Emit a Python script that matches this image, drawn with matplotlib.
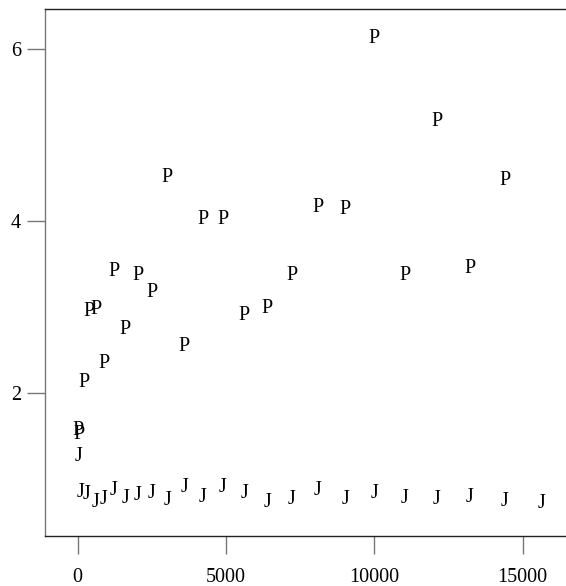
import matplotlib
matplotlib.use("Agg")
import matplotlib.pyplot as plt
from matplotlib.transforms import offset_copy

# P series
p_x = [25, 60, 225, 400, 625, 900, 1225, 1600, 2025, 2500, 3025, 3600,
       4225, 4900, 5625, 6400, 7225, 8100, 9025, 10000, 11025, 12100, 13225, 14400]
p_y = [1.59, 1.55, 2.15, 2.98, 3.00, 2.37, 3.45, 2.77, 3.40, 3.20, 4.54, 2.57,
       4.05, 4.05, 2.93, 3.01, 3.40, 4.19, 4.16, 6.15, 3.40, 5.195, 3.48, 4.50]

# J series
j_x = [25, 100, 300, 600, 880, 1225, 1600, 2025, 2500, 3025, 3600, 4225,
       4900, 5625, 6400, 7225, 8100, 9025, 10000, 11025, 12100, 13225, 14400, 15625]
j_y = [1.29, 0.87, 0.85, 0.76, 0.79, 0.90, 0.80, 0.84, 0.86, 0.78, 0.93, 0.81,
       0.93, 0.857, 0.76, 0.79, 0.90, 0.79, 0.857, 0.80, 0.79, 0.81, 0.77, 0.75]

x_ticks = [0, 5000, 10000, 15000]
y_ticks = [2, 4, 6]

W, H = 566, 586
fig = plt.figure(figsize=(W / 100, H / 100), dpi=100)
ax = fig.add_axes([45 / W, 50 / H, 521 / W, 527.5 / H])

font = dict(family="Liberation Serif", size=14.5)
# center the glyph body (not the ascent/descent box) on the data point
tr = offset_copy(ax.transData, fig=fig, x=0, y=-2.5, units="dots")

for x, y in zip(p_x, p_y):
    ax.text(x, y, "P", ha="center", va="center", color="black", transform=tr, **font)
for x, y in zip(j_x, j_y):
    ax.text(x, y, "J", ha="center", va="center", color="black", transform=tr, **font)

ax.set_xlim(-1099, 16463)
ax.set_ylim(0.338, 6.475)

ax.set_xticks(x_ticks)
ax.set_xticklabels([str(t) for t in x_ticks], **font)
ax.set_yticks(y_ticks)
ax.set_yticklabels([str(t) for t in y_ticks], **font)

ax.tick_params(axis="x", length=13, width=1, color="#777777", pad=10.0, labelcolor="black")
ax.tick_params(axis="y", length=13, width=1, color="#777777", pad=4.3, labelcolor="black")

ax.spines["right"].set_visible(False)
ax.spines["left"].set_color("#777777")
ax.spines["top"].set_color("#222222")
ax.spines["bottom"].set_color("#222222")
for s in ax.spines.values():
    s.set_linewidth(1)

fig.savefig("out.png", dpi=100, facecolor="white")
